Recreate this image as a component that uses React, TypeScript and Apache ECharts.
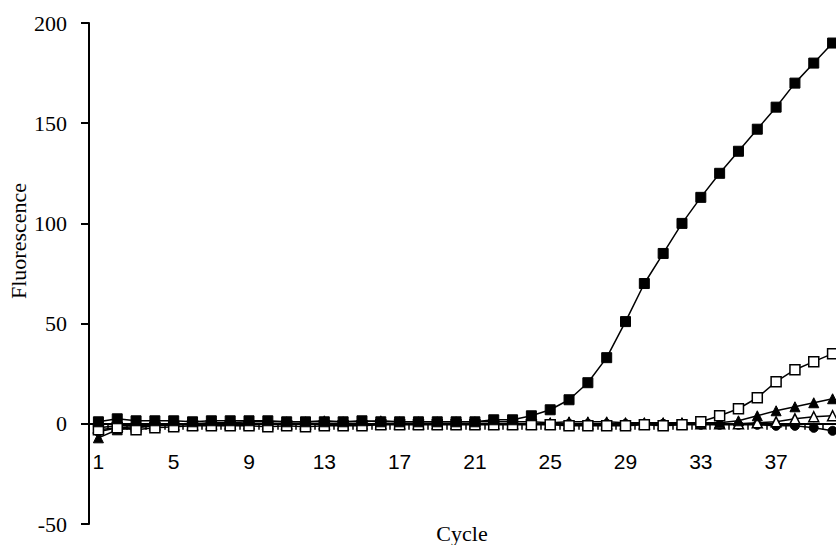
import React, { useEffect, useRef } from "react";
import * as echarts from "echarts";

const cycles: string[] = Array.from({ length: 40 }, (_, i) => String(i + 1));

const filledSquares = [1, 2.5, 1.5, 1.5, 1.5, 1, 1.5, 1.5, 1.5, 1.5, 1, 1, 1, 1, 1.5, 1, 1, 1, 1, 1, 1, 2, 2, 4, 7, 12, 20.5, 33, 51, 70, 85, 100, 113, 125, 136, 147, 158, 170, 180, 190];
const openSquares = [-3, -2, -3, -2, -1.5, -1, -1, -1, -1, -1.5, -1, -1.5, -1, -1, -1, -0.5, -0.5, -0.5, -0.5, -0.5, -0.5, -0.5, -0.5, -0.5, -0.5, -1, -1, -1, -1, -0.5, -1, -0.5, 1, 4, 7.5, 13, 21, 27, 31, 35];
const filledTriangles = [-7, -3, -2, -1, -0.5, 0, 0.5, 0.5, 1, 1, 1, 1, 1.5, 1, 1, 1.5, 1, 1, 1, 1, 1, 1, 1, 1, 0.5, 1, 1, 1, 0.5, 0.5, 0.5, 0.5, 0.5, 0.5, 1.5, 4, 6.5, 8.5, 10.5, 12.5];
const openTriangles = [-2, -1, -1, -0.5, -0.5, -0.5, 0, 0, 0, 0, 0, 0, 0, 0, 0, 0, 0, 0, 0, 0, 0, 0, 0, 0, 0, 0, 0, 0, 0, 0, 0, 0, 0, 0, 0, 0.5, 1, 2.5, 3.5, 4];
const filledCircles = [-4, -2, -1.5, -1, -0.5, 0, 0, 0, 0, 0, 0, 0, 0, 0, 0, 0, 0, 0, 0, 0, 0, 0, 0, 0, 0, 0, 0, 0, 0, 0, 0, -0.5, -0.5, -0.5, -0.5, -0.5, -1, -1, -2, -3.5];

const yTicks = { min: -50, max: 200, interval: 50 };

export default function App() {
  const ref = useRef<HTMLDivElement>(null);
  useEffect(() => {
    if (!ref.current) return;
    const chart = echarts.init(ref.current, undefined, { renderer: "svg" });
    const gridTop = 23;
    const gridBottom = 21;
    const plotH = 545 - gridTop - gridBottom;
    const zeroOffset = -(plotH * (0 - yTicks.min)) / (yTicks.max - yTicks.min);
    const mk = (name: string, data: number[], symbol: string, filled: boolean, size: number) => ({
      name,
      type: "line",
      data,
      symbol,
      symbolSize: size,
      showSymbol: true,
      clip: false,
      lineStyle: { color: "#000", width: 1.5 },
      itemStyle: filled
        ? { color: "#000", borderColor: "#000", borderWidth: 1 }
        : { color: "#fff", borderColor: "#000", borderWidth: 1.5 },
      emphasis: { disabled: true },
    });
    chart.setOption({
      animation: false,
      backgroundColor: "#fff",
      grid: { left: 89, right: -6, top: gridTop, bottom: gridBottom, containLabel: false, outerBoundsMode: "none" },
      xAxis: {
        type: "category",
        data: cycles,
        boundaryGap: true,
        position: "bottom",
        offset: zeroOffset,
        axisLine: { onZero: false, lineStyle: { color: "#000", width: 2 } },
        axisTick: { show: true, interval: 0, inside: false, length: 6, lineStyle: { color: "#000", width: 1.5 } },
        axisLabel: {
          interval: 3,
          margin: 27,
          color: "#000",
          fontSize: 21,
          fontFamily: "Liberation Sans, Arial, sans-serif",
        },
        splitLine: { show: false },
      },
      yAxis: {
        type: "value",
        min: yTicks.min,
        max: yTicks.max,
        interval: yTicks.interval,
        axisLine: { show: true, lineStyle: { color: "#000", width: 2 } },
        axisTick: { show: true, inside: false, length: 8, lineStyle: { color: "#000", width: 2 } },
        axisLabel: {
          margin: 22,
          color: "#000",
          fontSize: 22,
          fontFamily: "Liberation Serif, Times New Roman, serif",
        },
        splitLine: { show: false },
      },
      graphic: [
        {
          type: "text",
          x: 18,
          y: 241,
          rotation: Math.PI / 2,
          style: {
            text: "Fluorescence",
            fill: "#000",
            fontSize: 22,
            fontFamily: "Liberation Serif, Times New Roman, serif",
            align: "center",
            verticalAlign: "middle",
          },
        },
        {
          type: "text",
          x: 462,
          y: 533,
          style: {
            text: "Cycle",
            fill: "#000",
            fontSize: 22,
            fontFamily: "Liberation Serif, Times New Roman, serif",
            align: "center",
            verticalAlign: "middle",
          },
        },
      ],
      series: [
        mk("Filled circles", filledCircles, "circle", true, 9),
        mk("Open triangles", openTriangles, "triangle", false, 10),
        mk("Filled triangles", filledTriangles, "triangle", true, 10),
        mk("Open squares", openSquares, "rect", false, 10),
        mk("Filled squares", filledSquares, "rect", true, 10),
      ],
    });
    return () => chart.dispose();
  }, []);
  return <div ref={ref} style={{ width: 836, height: 545, position: "absolute", left: 0, top: 0 }} />;
}
